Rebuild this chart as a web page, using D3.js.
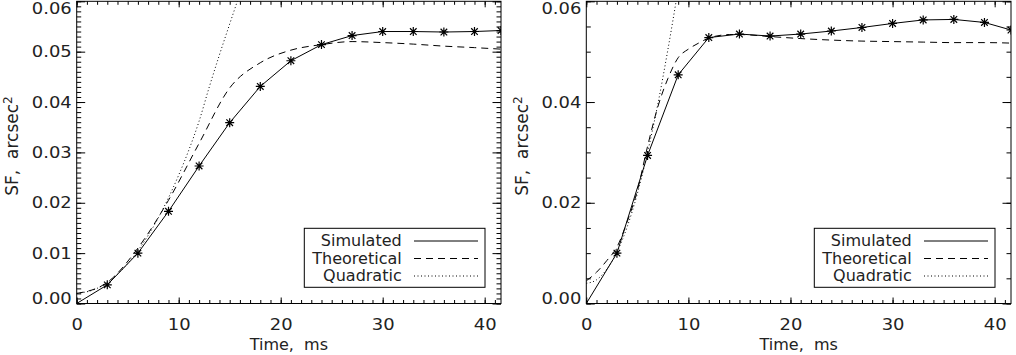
<!DOCTYPE html>
<html>
<head>
<meta charset="utf-8">
<script src="https://cdn.jsdelivr.net/npm/d3@7"></script>
<style>
body { margin: 0; background: #fff; }
text { font-family: "DejaVu Sans", sans-serif; fill: #222; }
</style>
</head>
<body>
<svg id="fig" width="1016" height="355"></svg>
<script>
// values (time in ms, SF in arcsec^2)
var time_sim = [0, 3, 6, 9, 12, 15, 18, 21, 24, 27, 30, 33, 36, 39, 41.6];
var sf_sim_left  = [0, 0.0037, 0.0100, 0.0183, 0.0273, 0.0359, 0.0431, 0.0482, 0.0514, 0.0532, 0.0540, 0.0540, 0.0539, 0.0540, 0.0542];
var sf_sim_right = [0, 0.0100, 0.0294, 0.0454, 0.0528, 0.0535, 0.0531, 0.0535, 0.0541, 0.0548, 0.0556, 0.0563, 0.0564, 0.0558, 0.0543];

var time_theo_left = [0, 3, 6, 9, 12, 15, 18, 21, 24, 27, 30, 33, 36, 39, 41.6];
var sf_theo_left   = [0.0020, 0.0042, 0.0110, 0.0205, 0.0318, 0.0428, 0.0478, 0.0503, 0.0514, 0.0520, 0.0518, 0.0515, 0.0511, 0.0508, 0.0505];
var time_theo_right = [0, 1, 2, 3, 4, 5, 6, 7, 8, 9, 10, 11, 12, 13, 14, 15, 18, 21, 24, 27, 30, 33, 36, 39, 41.6];
var sf_theo_right   = [0.0045, 0.0062, 0.0085, 0.0112, 0.0162, 0.0224, 0.0312, 0.0390, 0.0447, 0.0488, 0.0505, 0.0517, 0.0527, 0.0532, 0.0534, 0.0534, 0.0530, 0.0526, 0.0523, 0.0521, 0.0520, 0.0519, 0.0518, 0.0518, 0.0517];

var time_quad_left = [0, 2, 4, 6, 8, 10, 11, 12, 13, 14, 15, 16];
var sf_quad_left   = [0.0020, 0.0030, 0.0058, 0.0105, 0.0170, 0.0255, 0.0305, 0.0362, 0.0430, 0.0494, 0.0555, 0.0615];
var time_quad_right = [0, 1, 2, 3, 4, 5, 6, 7, 8, 9];
var sf_quad_right   = [0.0040, 0.0047, 0.0068, 0.0102, 0.0152, 0.0218, 0.0300, 0.0395, 0.0505, 0.0625];

var x_ticks = [0, 10, 20, 30, 40];
var legend_labels = ["Simulated", "Theoretical", "Quadratic"];
var legend_dash = [null, "7,5", "1,2.5"];

var svg = d3.select("#fig");
var star = "M0,-4.5V4.5M-4.5,0H4.5M-3.3,-3.3L3.3,3.3M-3.3,3.3L3.3,-3.3";

function zip(xs, ys) {
    return xs.map(function(t, i) { return [t, ys[i]]; });
}

// stretch text horizontally (the original font has wide digits)
function stretch(sel, f) {
    sel.each(function() {
        var w = this.getComputedTextLength();
        d3.select(this).attr("textLength", w * f).attr("lengthAdjust", "spacingAndGlyphs");
    });
}

function drawPanel(p) {
    var x = d3.scaleLinear().domain([0, 41.6]).range([p.x0, p.x1]);
    var y = d3.scaleLinear().domain([0, 0.06]).range([303.5, 1.3]);
    var g = svg.append("g");

    g.append("clipPath").attr("id", "clip" + p.id)
        .append("rect")
        .attr("x", p.x0).attr("y", 1.3)
        .attr("width", p.x1 - p.x0).attr("height", 302.2);

    var minorX = d3.range(0, 42, 1);
    var minorY = d3.range(0, Math.round(0.06 / p.yMinor) + 1).map(function(i) { return i * p.yMinor; });
    var majorY = d3.range(0, Math.round(0.06 / p.yMajor) + 1).map(function(i) { return i * p.yMajor; });

    // minor ticks on all four sides
    g.append("g").attr("transform", "translate(0,303.5)")
        .call(d3.axisBottom(x).tickValues(minorX).tickSize(-3.5).tickSizeOuter(0).tickFormat(""));
    g.append("g").attr("transform", "translate(0,1.3)")
        .call(d3.axisTop(x).tickValues(minorX).tickSize(-3.5).tickSizeOuter(0).tickFormat(""));
    g.append("g").attr("transform", "translate(" + p.x0 + ",0)")
        .call(d3.axisLeft(y).tickValues(minorY).tickSize(-4.5).tickSizeOuter(0).tickFormat(""));
    g.append("g").attr("transform", "translate(" + p.x1 + ",0)")
        .call(d3.axisRight(y).tickValues(minorY).tickSize(-4.5).tickSizeOuter(0).tickFormat(""));

    // major ticks
    var xb = g.append("g").attr("transform", "translate(0,303.5)")
        .call(d3.axisBottom(x).tickValues(x_ticks).tickSize(-6).tickSizeOuter(0).tickFormat(d3.format("d")));
    g.append("g").attr("transform", "translate(0,1.3)")
        .call(d3.axisTop(x).tickValues(x_ticks).tickSize(-6).tickSizeOuter(0).tickFormat(""));
    var yl = g.append("g").attr("transform", "translate(" + p.x0 + ",0)")
        .call(d3.axisLeft(y).tickValues(majorY).tickSize(-8.5).tickSizeOuter(0).tickPadding(5).tickFormat(d3.format(".2f")));
    g.append("g").attr("transform", "translate(" + p.x1 + ",0)")
        .call(d3.axisRight(y).tickValues(majorY).tickSize(-8.5).tickSizeOuter(0).tickFormat(""));

    g.selectAll(".domain").remove();
    g.selectAll(".tick line").attr("stroke", "#000").attr("stroke-width", 1);

    xb.selectAll("text").attr("dy", 0).attr("y", 26.5).style("font-size", "16px").style("font-family", null);
    yl.selectAll("text").style("font-size", "16px").style("font-family", null)
        .attr("y", function(d) { return d < 1e-6 ? -5 : (d > 0.0599 ? 7 : 0); });
    stretch(xb.selectAll("text"), 1.12);
    stretch(yl.selectAll("text"), 1.12);

    // frame
    g.append("rect")
        .attr("x", p.x0).attr("y", 1.3)
        .attr("width", p.x1 - p.x0).attr("height", 302.2)
        .attr("fill", "none").attr("stroke", "#000");

    // curves
    var plot = g.append("g").attr("clip-path", "url(#clip" + p.id + ")");
    var lineLin = d3.line().x(function(d) { return x(d[0]); }).y(function(d) { return y(d[1]); });
    var lineSmooth = d3.line().curve(d3.curveMonotoneX).x(function(d) { return x(d[0]); }).y(function(d) { return y(d[1]); });

    plot.append("path").attr("d", lineSmooth(zip(p.tq, p.quad)))
        .attr("fill", "none").attr("stroke", "#000").attr("stroke-dasharray", "1,2.5");
    plot.append("path").attr("d", lineSmooth(zip(p.tt, p.theo)))
        .attr("fill", "none").attr("stroke", "#000").attr("stroke-dasharray", "7,5");
    var simPts = zip(time_sim, p.sim);
    plot.append("path").attr("d", lineLin(simPts))
        .attr("fill", "none").attr("stroke", "#000");
    plot.selectAll("path.star")
        .data(simPts.slice(1))
        .enter()
        .append("path")
        .attr("class", "star")
        .attr("d", star)
        .attr("transform", function(d) { return "translate(" + x(d[0]) + "," + y(d[1]) + ")"; })
        .attr("stroke", "#000").attr("stroke-width", 1.2).attr("fill", "none");

    // axis titles
    g.append("text")
        .attr("x", (p.x0 + p.x1) / 2).attr("y", 350)
        .attr("text-anchor", "middle")
        .style("font-size", "16px").style("white-space", "pre")
        .text("Time,  ms");
    var yt = g.append("text")
        .attr("transform", "translate(" + (p.x0 - 58.5) + ",146) rotate(-90)")
        .attr("text-anchor", "middle")
        .style("font-size", "17px").style("white-space", "pre");
    yt.append("tspan").text("SF,  arcsec");
    yt.append("tspan").attr("dy", -6).style("font-size", "12px").text("2");

    // legend
    var bx = p.x1 - 196.7, by = 228.3;
    var lg = g.append("g");
    lg.append("rect").attr("x", bx).attr("y", by).attr("width", 180.7).attr("height", 59)
        .attr("fill", "#fff").attr("stroke", "#000");
    legend_labels.forEach(function(lab, i) {
        var base = by + 17.7 + i * 17.5;
        lg.append("text").attr("x", bx + 97.4).attr("y", base)
            .attr("text-anchor", "end").style("font-size", "16px").text(lab);
        lg.append("line")
            .attr("x1", bx + 109.7).attr("x2", bx + 173.7)
            .attr("y1", base - 5).attr("y2", base - 5)
            .attr("stroke", "#000")
            .attr("stroke-dasharray", legend_dash[i]);
    });
}

drawPanel({id: 0, x0: 76.7, x1: 501, yMajor: 0.01, yMinor: 0.001,
    sim: sf_sim_left, tt: time_theo_left, theo: sf_theo_left, tq: time_quad_left, quad: sf_quad_left});
drawPanel({id: 1, x0: 586.3, x1: 1011, yMajor: 0.02, yMinor: 0.005,
    sim: sf_sim_right, tt: time_theo_right, theo: sf_theo_right, tq: time_quad_right, quad: sf_quad_right});
</script>
</body>
</html>
